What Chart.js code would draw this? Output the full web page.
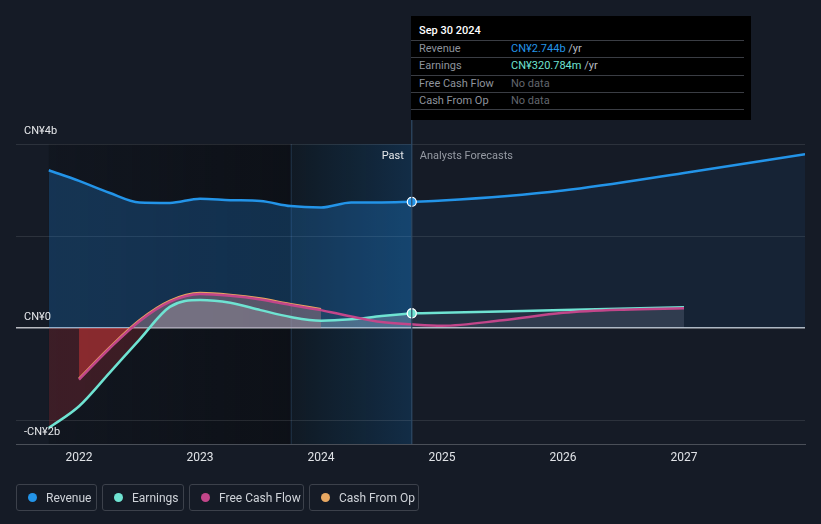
<!DOCTYPE html>
<html>
<head>
<meta charset="utf-8">
<script src="https://cdn.jsdelivr.net/npm/chart.js@4.4.0/dist/chart.umd.min.js"></script>
<style>
  body { margin: 0; background: #151b26; font-family: Roboto, "Noto Sans", sans-serif; }
  #wrap { position: relative; width: 821px; height: 524px; }
  #tip { position: absolute; left: 411px; top: 16px; width: 340px; height: 104px; background: #000; color: #fff; font-size: 11px; }
  #tip .title { height: 24px; line-height: 29px; padding-left: 8px; font-weight: 500; }
  #tip .row { height: 16.3px; line-height: 16.5px; border-top: 1px solid #3a3d44; margin-right: 7px; display: flex; }
  #tip .row:last-child { border-bottom: 1px solid #3a3d44; }
  #tip .lab { width: 92px; padding-left: 8px; color: #8e939c; }
  #tip .none { color: #62666e; }
  #legend { position: absolute; left: 16px; top: 484px; display: flex; gap: 5px; }
  .item { height: 27px; border: 1px solid #3c414b; border-radius: 3px; display: flex; align-items: center; padding: 0 11px 0 11px; color: #cfd3d9; font-size: 12px; box-sizing: border-box; white-space: nowrap; }
  .dot { width: 9px; height: 9px; border-radius: 50%; margin-right: 9px; flex-shrink: 0; }
</style>
</head>
<body>
<div id="wrap">
  <canvas id="chart" width="821" height="524"></canvas>
  <div id="tip">
    <div class="title">Sep 30 2024</div>
    <div class="row"><span class="lab">Revenue</span><span style="color:#2394e8">CN¥2.744b <span style="color:#b7bbc2">/yr</span></span></div>
    <div class="row"><span class="lab">Earnings</span><span style="color:#6fe3d2">CN¥320.784m <span style="color:#b7bbc2">/yr</span></span></div>
    <div class="row"><span class="lab">Free Cash Flow</span><span class="none">No data</span></div>
    <div class="row"><span class="lab">Cash From Op</span><span class="none">No data</span></div>
  </div>
  <div id="legend">
    <div class="item" style="width:81px"><span class="dot" style="background:#2394e8"></span>Revenue</div>
    <div class="item" style="width:82px"><span class="dot" style="background:#6fe3d2"></span>Earnings</div>
    <div class="item" style="width:115px"><span class="dot" style="background:#c2468a"></span>Free Cash Flow</div>
    <div class="item" style="width:110px"><span class="dot" style="background:#e8a862"></span>Cash From Op</div>
  </div>
</div>
<script>
// values in CN¥ billions, dates as decimal years
const pastDates = [2021.75, 2022.0, 2022.25, 2022.5, 2022.75, 2023.0, 2023.25, 2023.5, 2023.75, 2024.0, 2024.25, 2024.5, 2024.75];
const revenuePast = [3.43, 3.2, 2.94, 2.73, 2.72, 2.81, 2.78, 2.76, 2.65, 2.62, 2.73, 2.73, 2.744];
const earningsPast = [-2.17, -1.7, -0.98, -0.25, 0.46, 0.61, 0.55, 0.39, 0.24, 0.16, 0.19, 0.26, 0.32];

const cashDates = [2022.0, 2022.25, 2022.5, 2022.75, 2023.0, 2023.25, 2023.5, 2023.75, 2024.0];
const cfoPast = [-1.1, -0.43, 0.17, 0.59, 0.76, 0.72, 0.64, 0.52, 0.41];
const fcfPast = [-1.12, -0.45, 0.15, 0.57, 0.74, 0.70, 0.62, 0.50, 0.39];

const fcfLaterDates = [2024.0, 2024.25, 2024.5, 2024.75, 2025.0, 2025.5, 2026.0, 2026.5, 2027.0];
const fcfLater = [0.39, 0.25, 0.13, 0.08, 0.05, 0.17, 0.33, 0.40, 0.43];

const revenueForecastDates = [2024.75, 2025.0, 2026.0, 2027.0, 2028.0];
const revenueForecast = [2.744, 2.77, 2.99, 3.37, 3.78];
const earningsForecastDates = [2024.75, 2025.0, 2026.0, 2027.0];
const earningsForecast = [0.32, 0.33, 0.39, 0.45];

const yearTicks = [2022, 2023, 2024, 2025, 2026, 2027];
const yLabels = [{ v: 4, t: 'CN¥4b', dy: -13 }, { v: 0, t: 'CN¥0', dy: -11 }, { v: -2, t: '-CN¥2b', dy: 12 }];
const todayDate = 2024.75;
const bandStart = 2023.75;

function pts(xs, ys) {
    return xs.map((x, i) => ({ x: x, y: ys[i] }));
}

function line(data, color, above, below, marker) {
    return {
        data: data,
        borderColor: color,
        borderWidth: 2.5,
        cubicInterpolationMode: 'monotone',
        fill: { target: 'origin', above: above, below: below },
        pointRadius: ctx => (marker && ctx.raw && ctx.raw.x === todayDate) ? 4.5 : 0,
        pointBackgroundColor: color,
        pointBorderColor: '#fff',
        pointBorderWidth: 1.2,
    };
}

// background bands, date line and y labels
const decor = {
    id: 'decor',
    beforeDraw(chart) {
        const { ctx, chartArea: a, scales: { x } } = chart;
        const x0 = x.getPixelForValue(pastDates[0]);
        const xb = x.getPixelForValue(bandStart);
        const xt = x.getPixelForValue(todayDate);
        ctx.save();
        let g = ctx.createLinearGradient(x0, 0, xb, 0);
        g.addColorStop(0, 'rgba(8,10,14,0.25)');
        g.addColorStop(1, 'rgba(8,10,14,0.6)');
        ctx.fillStyle = g;
        ctx.fillRect(x0, a.top, xb - x0, a.bottom - a.top);
        g = ctx.createLinearGradient(xb, 0, xt, 0);
        g.addColorStop(0, 'rgba(16,26,36,0.9)');
        g.addColorStop(1, 'rgba(18,46,72,0.95)');
        ctx.fillStyle = g;
        ctx.fillRect(xb, a.top, xt - xb, a.bottom - a.top);
        ctx.strokeStyle = 'rgba(60,100,140,0.35)';
        ctx.lineWidth = 1;
        ctx.beginPath();
        ctx.moveTo(xb + 0.5, a.top);
        ctx.lineTo(xb + 0.5, a.bottom);
        ctx.stroke();
        ctx.restore();
    },
    afterDraw(chart) {
        const { ctx, chartArea: a, scales: { x, y } } = chart;
        const xt = x.getPixelForValue(todayDate);
        ctx.save();
        ctx.strokeStyle = '#2e4a66';
        ctx.lineWidth = 1.2;
        ctx.beginPath();
        ctx.moveTo(xt, 16);
        ctx.lineTo(xt, a.bottom);
        ctx.stroke();
        ctx.font = '11px Roboto, sans-serif';
        ctx.textBaseline = 'middle';
        ctx.fillStyle = '#e6e8eb';
        ctx.textAlign = 'right';
        ctx.fillText('Past', xt - 8, a.top + 12);
        ctx.fillStyle = '#959aa3';
        ctx.textAlign = 'left';
        ctx.fillText('Analysts Forecasts', xt + 8, a.top + 12);
        ctx.fillStyle = '#e6e8eb';
        yLabels.forEach(l => ctx.fillText(l.t, a.left + 8, y.getPixelForValue(l.v) + l.dy));
        ctx.restore();
    }
};

new Chart(document.getElementById('chart'), {
    type: 'line',
    data: {
        datasets: [
            line(pts(pastDates, revenuePast), '#2394e8', 'rgba(33,140,230,0.26)', 'rgba(0,0,0,0)', true),
            line(pts(revenueForecastDates, revenueForecast), '#2394e8', 'rgba(33,140,230,0.08)', 'rgba(0,0,0,0)', false),
            line(pts(fcfLaterDates, fcfLater), '#c2468a', 'rgba(200,200,220,0.08)', 'rgba(230,60,60,0.15)', false),
            line(pts(cashDates, fcfPast), '#c2468a', 'rgba(210,80,120,0.15)', 'rgba(230,60,60,0.2)', false),
            line(pts(cashDates, cfoPast), '#eaa85e', 'rgba(245,165,110,0.33)', 'rgba(230,60,60,0.32)', false),
            line(pts(earningsForecastDates, earningsForecast), '#6fe3d2', 'rgba(200,200,220,0.09)', 'rgba(230,60,60,0.2)', true),
            line(pts(pastDates, earningsPast), '#6fe3d2', 'rgba(235,225,205,0.3)', 'rgba(190,50,60,0.25)', true),
        ]
    },
    options: {
        responsive: false,
        animation: false,
        layout: { padding: { left: 16, right: 16, top: 144, bottom: 51.6 } },
        scales: {
            x: {
                type: 'linear',
                min: 2021.479,
                max: 2028.0,
                afterBuildTicks: axis => { axis.ticks = yearTicks.map(v => ({ value: v })); },
                ticks: { color: '#e0e3e7', font: { size: 12, family: 'Roboto' }, padding: 7, callback: v => String(v) },
                grid: { display: false, drawTicks: false },
                border: { display: true, color: '#4a4f58', width: 1 },
            },
            y: {
                min: -2.52,
                max: 4,
                afterBuildTicks: axis => { axis.ticks = [-2, 0, 2, 4].map(v => ({ value: v })); },
                ticks: { display: false },
                grid: {
                    drawTicks: false,
                    color: c => c.tick && c.tick.value === 0 ? '#b9bcc2' : 'rgba(255,255,255,0.1)',
                    lineWidth: c => c.tick && c.tick.value === 0 ? 1.5 : 1,
                },
                border: { display: false },
            }
        },
        plugins: {
            legend: { display: false },
            tooltip: { enabled: false },
            filler: { drawTime: 'beforeDatasetsDraw' },
        }
    },
    plugins: [decor]
});
</script>
</body>
</html>
